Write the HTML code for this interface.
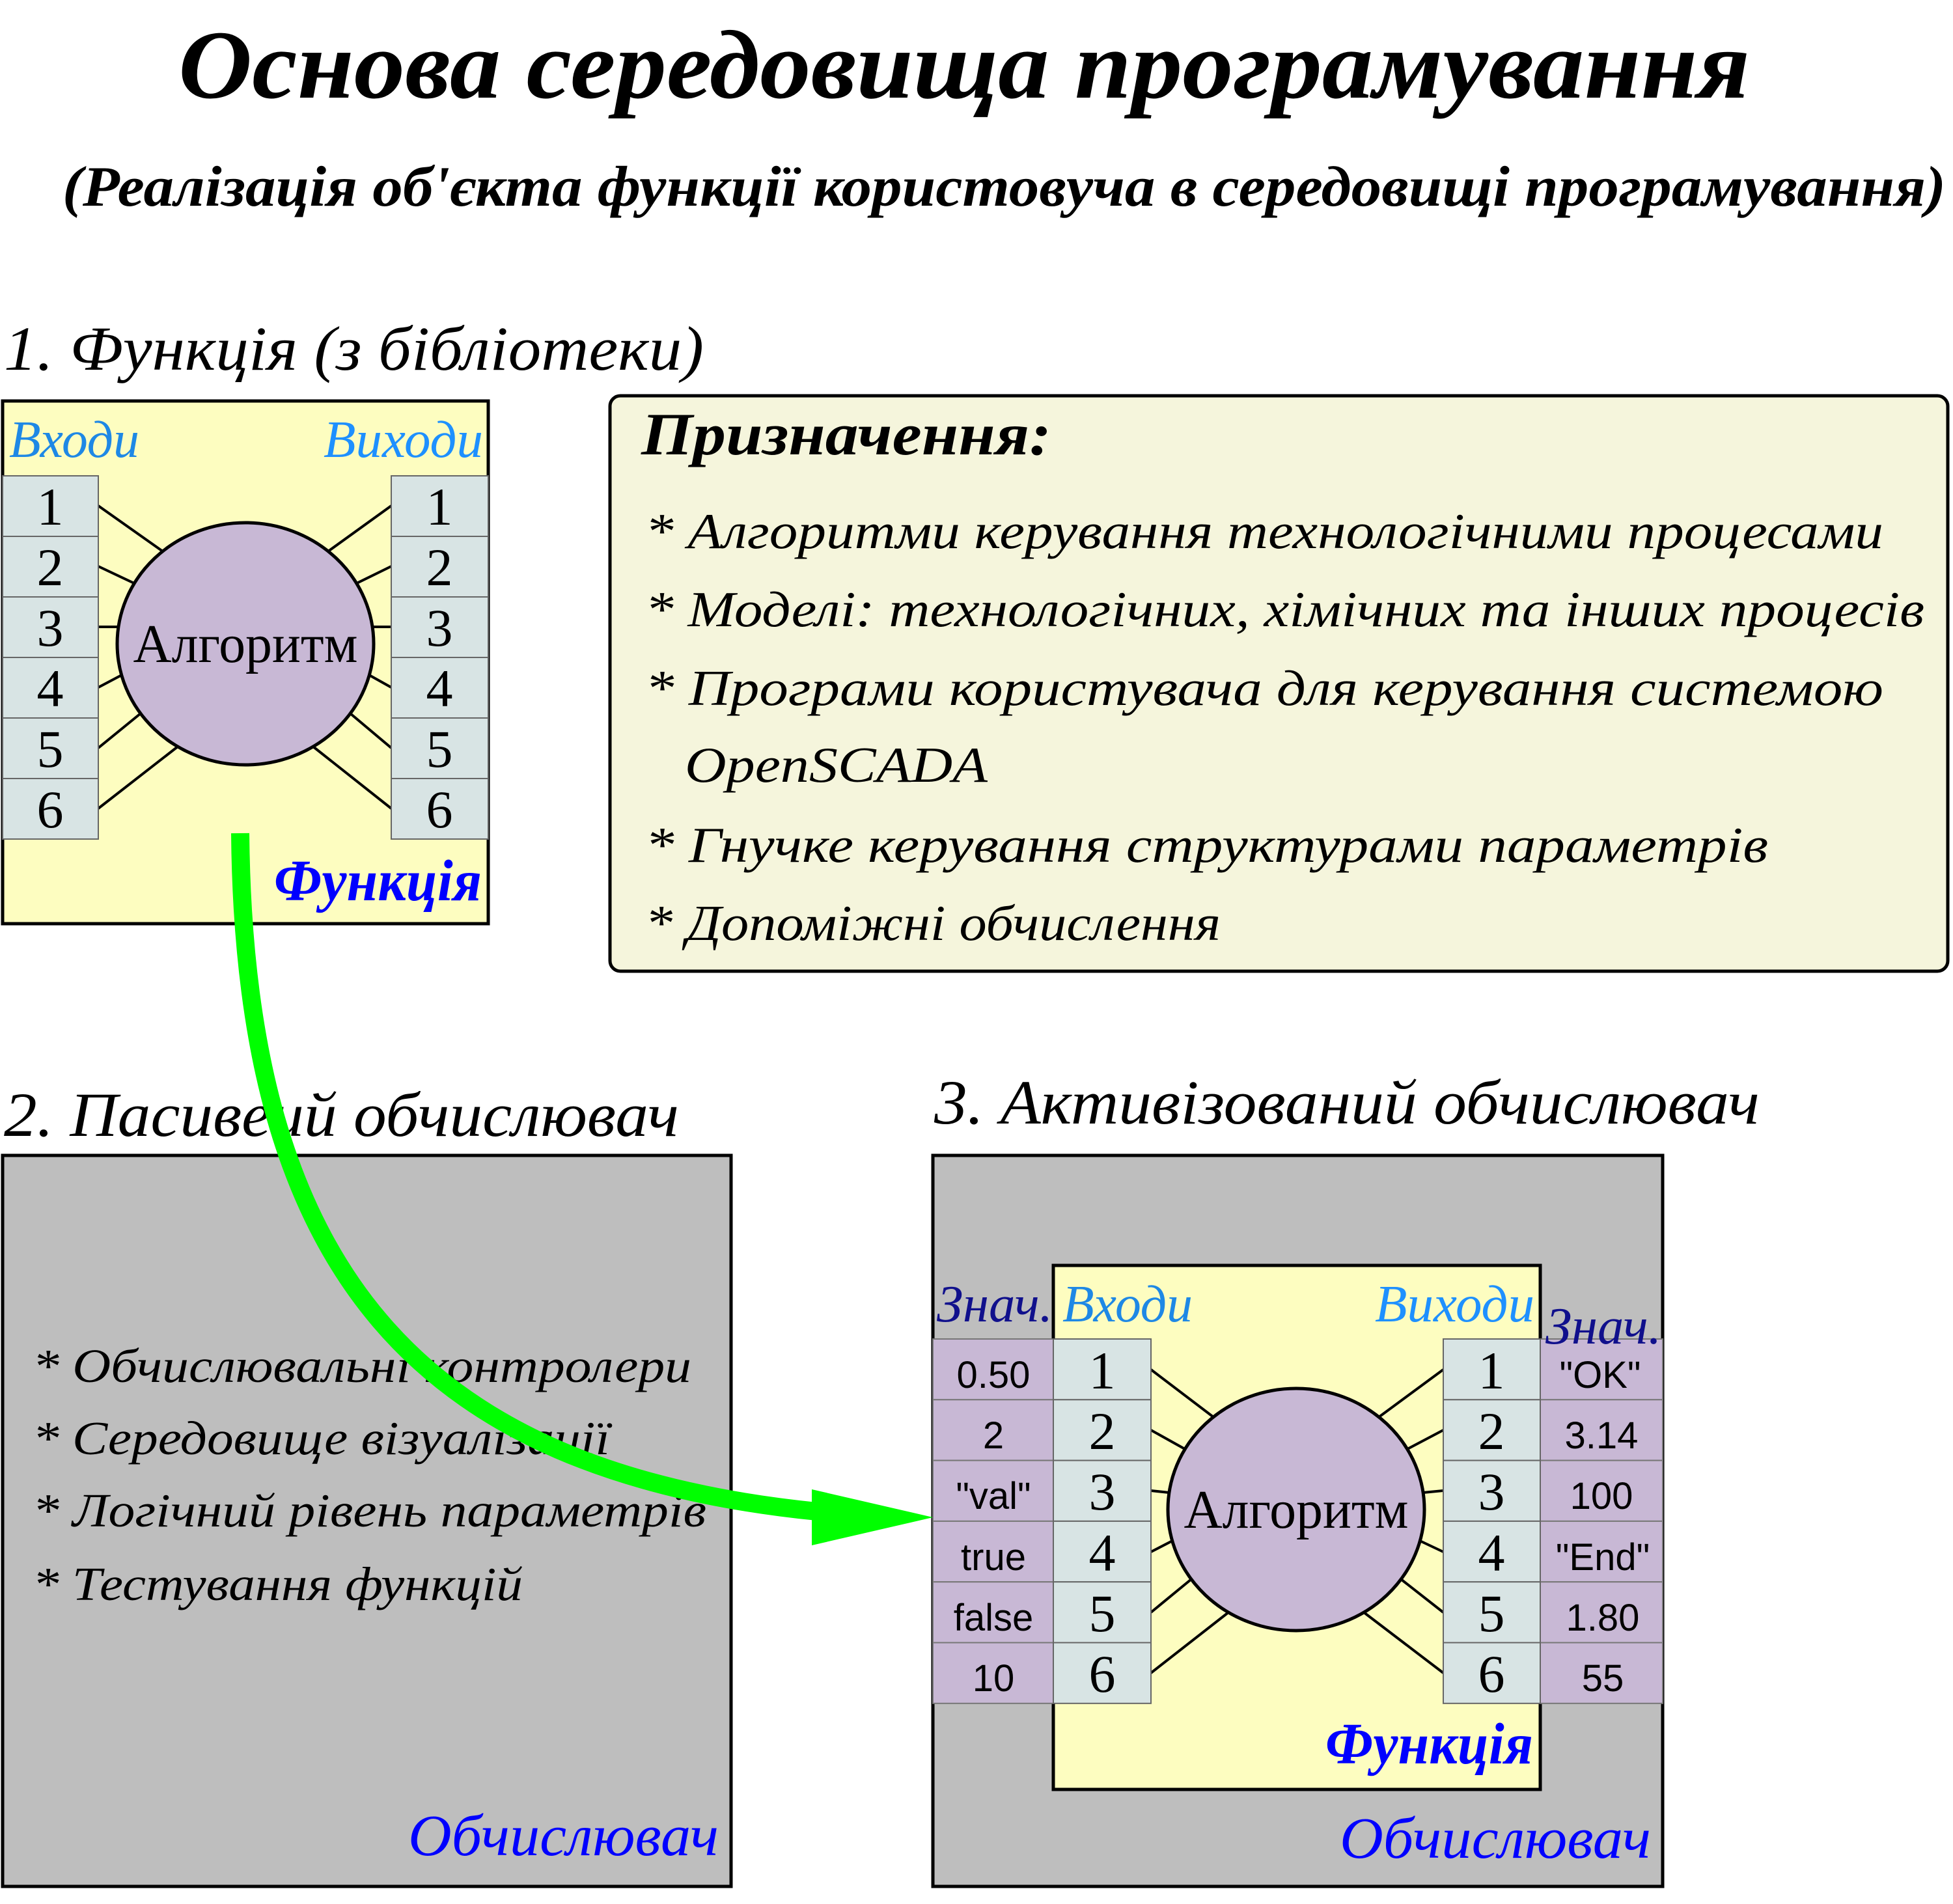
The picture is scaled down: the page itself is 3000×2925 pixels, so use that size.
<!DOCTYPE html>
<html><head><meta charset="utf-8"><style>html,body{margin:0;padding:0;background:#fff}svg{display:block}</style></head>
<body>
<svg xmlns="http://www.w3.org/2000/svg" width="3000" height="2925" viewBox="0 0 3000 2925" font-family="Liberation Serif, serif">
<rect width="3000" height="2925" fill="#fff"/>
<text x="274" y="150" font-size="150" font-weight="bold" font-style="italic" textLength="2414" lengthAdjust="spacingAndGlyphs">Основа середовища програмування</text>
<text x="96" y="316" font-size="88" font-weight="bold" font-style="italic" textLength="2893" lengthAdjust="spacingAndGlyphs">(Реалізація об'єкта функції користовуча в середовищі програмування)</text>
<text x="6" y="568" font-size="96" font-style="italic" textLength="1075" lengthAdjust="spacingAndGlyphs">1. Функція (з бібліотеки)</text>

<rect x="4" y="616" width="746" height="803" fill="#fdfdc0" stroke="#000" stroke-width="5"/>
<text x="14" y="702" font-size="80" font-style="italic" fill="#1e88e5" textLength="200" lengthAdjust="spacingAndGlyphs">Входи</text>
<text x="497" y="702" font-size="80" font-style="italic" fill="#1e90ff" textLength="245" lengthAdjust="spacingAndGlyphs">Виходи</text>
<g stroke="#000" stroke-width="4">
<line x1="151" y1="777" x2="250" y2="847"/><line x1="151" y1="870" x2="206" y2="896"/><line x1="151" y1="963" x2="182" y2="963"/><line x1="151" y1="1056" x2="187" y2="1037"/><line x1="151" y1="1149" x2="216" y2="1096"/><line x1="151" y1="1242" x2="273" y2="1147"/>
<line x1="601" y1="777" x2="504" y2="847"/><line x1="601" y1="870" x2="548" y2="896"/><line x1="601" y1="963" x2="572" y2="963"/><line x1="601" y1="1056" x2="567" y2="1037"/><line x1="601" y1="1149" x2="538" y2="1096"/><line x1="601" y1="1242" x2="481" y2="1147"/>
</g>
<g fill="#d8e4e4" stroke="#666" stroke-width="2">
<rect x="4" y="731" width="147" height="93"/><rect x="4" y="824" width="147" height="93"/><rect x="4" y="917" width="147" height="93"/><rect x="4" y="1010" width="147" height="93"/><rect x="4" y="1103" width="147" height="93"/><rect x="4" y="1196" width="147" height="93"/>
<rect x="601" y="731" width="149" height="93"/><rect x="601" y="824" width="149" height="93"/><rect x="601" y="917" width="149" height="93"/><rect x="601" y="1010" width="149" height="93"/><rect x="601" y="1103" width="149" height="93"/><rect x="601" y="1196" width="149" height="93"/>
</g>
<g font-size="82" text-anchor="middle">
<text x="77" y="806">1</text><text x="77" y="899">2</text><text x="77" y="992">3</text><text x="77" y="1085">4</text><text x="77" y="1178">5</text><text x="77" y="1271">6</text>
<text x="675" y="806">1</text><text x="675" y="899">2</text><text x="675" y="992">3</text><text x="675" y="1085">4</text><text x="675" y="1178">5</text><text x="675" y="1271">6</text>
</g>
<ellipse cx="377" cy="989" rx="197" ry="186" fill="#c8b8d5" stroke="#000" stroke-width="5"/>
<text x="377" y="1017" font-size="84" text-anchor="middle" textLength="345" lengthAdjust="spacingAndGlyphs">Алгоритм</text>
<text x="421" y="1383" font-size="90" font-weight="bold" font-style="italic" fill="#0000ff" textLength="319" lengthAdjust="spacingAndGlyphs">Функція</text>

<rect x="937" y="608" width="2055" height="884" rx="16" fill="#f5f5dc" stroke="#000" stroke-width="5"/>
<text x="985" y="698" font-size="92" font-weight="bold" font-style="italic" textLength="630" lengthAdjust="spacingAndGlyphs">Призначення:</text>
<g font-size="77" font-style="italic">
<text x="991" y="842" textLength="1902" lengthAdjust="spacingAndGlyphs">* Алгоритми керування технологічними процесами</text>
<text x="991" y="962" textLength="1965" lengthAdjust="spacingAndGlyphs">* Моделі: технологічних, хімічних та інших процесів</text>
<text x="991" y="1083" textLength="1902" lengthAdjust="spacingAndGlyphs">* Програми користувача для керування системою</text>
<text x="1052" y="1201" textLength="465" lengthAdjust="spacingAndGlyphs">OpenSCADA</text>
<text x="991" y="1324" textLength="1725" lengthAdjust="spacingAndGlyphs">* Гнучке керування структурами параметрів</text>
<text x="991" y="1444" textLength="884" lengthAdjust="spacingAndGlyphs">* Допоміжні обчислення</text>
</g>

<text x="6" y="1745" font-size="96" font-style="italic" textLength="1037" lengthAdjust="spacingAndGlyphs">2. Пасивеий обчислювач</text>
<rect x="4" y="1775" width="1119" height="1123" fill="#bebebe" stroke="#000" stroke-width="5"/>
<g font-size="73" font-style="italic">
<text x="50" y="2123" textLength="1012" lengthAdjust="spacingAndGlyphs">* Обчислювальні контролери</text>
<text x="50" y="2234" textLength="887" lengthAdjust="spacingAndGlyphs">* Середовище візуалізації</text>
<text x="50" y="2345" textLength="1035" lengthAdjust="spacingAndGlyphs">* Логічний рівень параметрів</text>
<text x="50" y="2458" textLength="753" lengthAdjust="spacingAndGlyphs">* Тестування функцій</text>
</g>
<text x="627" y="2850" font-size="90" font-style="italic" fill="#0000ff" textLength="477" lengthAdjust="spacingAndGlyphs">Обчислювач</text>

<text x="1435" y="1726" font-size="96" font-style="italic" textLength="1268" lengthAdjust="spacingAndGlyphs">3. Активізований обчислювач</text>
<rect x="1433" y="1775" width="1121" height="1123" fill="#bebebe" stroke="#000" stroke-width="5"/>
<rect x="1618" y="1944" width="748" height="805" fill="#fdfdc0" stroke="#000" stroke-width="5"/>
<text x="1439" y="2030" font-size="80" font-style="italic" fill="#10108c" textLength="178" lengthAdjust="spacingAndGlyphs">Знач.</text>
<text x="1632" y="2030" font-size="80" font-style="italic" fill="#1e88e5" textLength="200" lengthAdjust="spacingAndGlyphs">Входи</text>
<text x="2112" y="2030" font-size="80" font-style="italic" fill="#1e90ff" textLength="245" lengthAdjust="spacingAndGlyphs">Виходи</text>
<g stroke="#000" stroke-width="4">
<line x1="1768" y1="2104" x2="1864" y2="2177"/><line x1="1768" y1="2197" x2="1820" y2="2226"/><line x1="1768" y1="2290" x2="1796" y2="2293"/><line x1="1768" y1="2384" x2="1801" y2="2367"/><line x1="1768" y1="2477" x2="1830" y2="2426"/><line x1="1768" y1="2570" x2="1887" y2="2477"/>
<line x1="2217" y1="2104" x2="2118" y2="2177"/><line x1="2217" y1="2197" x2="2162" y2="2226"/><line x1="2217" y1="2290" x2="2186" y2="2293"/><line x1="2217" y1="2384" x2="2181" y2="2367"/><line x1="2217" y1="2477" x2="2152" y2="2426"/><line x1="2217" y1="2570" x2="2095" y2="2477"/>
</g>
<g fill="#c8b8d5" stroke="#777" stroke-width="2">
<rect x="1433" y="2057" width="185" height="93.3"/><rect x="1433" y="2150.3" width="185" height="93.3"/><rect x="1433" y="2243.6" width="185" height="93.3"/><rect x="1433" y="2336.9" width="185" height="93.3"/><rect x="1433" y="2430.2" width="185" height="93.3"/><rect x="1433" y="2523.5" width="185" height="93.3"/>
<rect x="2366" y="2057" width="188" height="93.3"/><rect x="2366" y="2150.3" width="188" height="93.3"/><rect x="2366" y="2243.6" width="188" height="93.3"/><rect x="2366" y="2336.9" width="188" height="93.3"/><rect x="2366" y="2430.2" width="188" height="93.3"/><rect x="2366" y="2523.5" width="188" height="93.3"/>
</g>
<g fill="#d8e4e4" stroke="#666" stroke-width="2">
<rect x="1618" y="2057" width="150" height="93.3"/><rect x="1618" y="2150.3" width="150" height="93.3"/><rect x="1618" y="2243.6" width="150" height="93.3"/><rect x="1618" y="2336.9" width="150" height="93.3"/><rect x="1618" y="2430.2" width="150" height="93.3"/><rect x="1618" y="2523.5" width="150" height="93.3"/>
<rect x="2217" y="2057" width="149" height="93.3"/><rect x="2217" y="2150.3" width="149" height="93.3"/><rect x="2217" y="2243.6" width="149" height="93.3"/><rect x="2217" y="2336.9" width="149" height="93.3"/><rect x="2217" y="2430.2" width="149" height="93.3"/><rect x="2217" y="2523.5" width="149" height="93.3"/>
</g>
<text x="2374" y="2064" font-size="80" font-style="italic" fill="#10108c" textLength="178" lengthAdjust="spacingAndGlyphs">Знач.</text>
<g font-size="82" text-anchor="middle">
<text x="1693" y="2133">1</text><text x="1693" y="2226">2</text><text x="1693" y="2319">3</text><text x="1693" y="2413">4</text><text x="1693" y="2506">5</text><text x="1693" y="2599">6</text>
<text x="2291" y="2133">1</text><text x="2291" y="2226">2</text><text x="2291" y="2319">3</text><text x="2291" y="2413">4</text><text x="2291" y="2506">5</text><text x="2291" y="2599">6</text>
</g>
<g font-size="58" text-anchor="middle" font-family="Liberation Sans, sans-serif">
<text x="1526" y="2132">0.50</text><text x="1526" y="2225">2</text><text x="1526" y="2318">"val"</text><text x="1526" y="2412">true</text><text x="1526" y="2505">false</text><text x="1526" y="2598">10</text>
<text x="2458" y="2132">"OK"</text><text x="2460" y="2225">3.14</text><text x="2460" y="2318">100</text><text x="2462" y="2412">"End"</text><text x="2462" y="2505">1.80</text><text x="2462" y="2598">55</text>
</g>
<ellipse cx="1991" cy="2319" rx="197" ry="186" fill="#c8b8d5" stroke="#000" stroke-width="5"/>
<text x="1991" y="2347" font-size="84" text-anchor="middle" textLength="345" lengthAdjust="spacingAndGlyphs">Алгоритм</text>
<text x="2036" y="2709" font-size="90" font-weight="bold" font-style="italic" fill="#0000ff" textLength="319" lengthAdjust="spacingAndGlyphs">Функція</text>
<text x="2058" y="2854" font-size="90" font-style="italic" fill="#0000ff" textLength="478" lengthAdjust="spacingAndGlyphs">Обчислювач</text>

<path d="M369,1280 C375,1950 640,2260 1255,2322" fill="none" stroke="#00ff00" stroke-width="28"/>
<polygon points="1247,2288 1433,2331 1247,2374" fill="#00ff00"/>
</svg>
</body></html>
